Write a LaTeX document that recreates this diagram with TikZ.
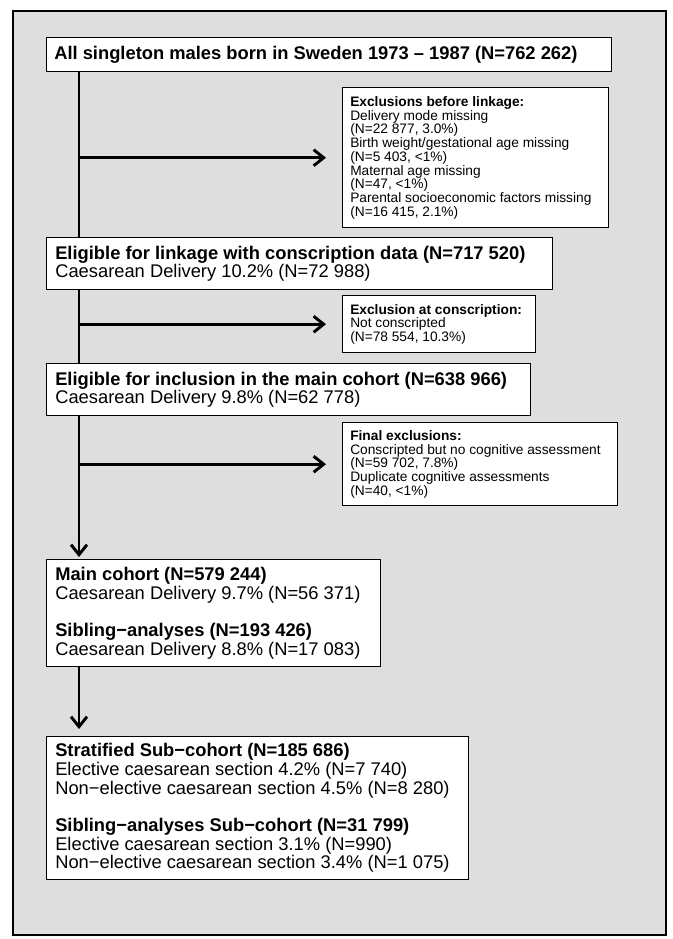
\documentclass[tikz,border=0pt]{standalone}
\usepackage{fontspec}
\setmainfont{Liberation Sans}
\usetikzlibrary{arrows.meta}
\begin{document}
\begin{tikzpicture}[x=0.75pt,y=-0.75pt,
  frame/.style={draw=black, line width=1.1pt, fill=white, anchor=north west, inner sep=0pt},
  bigtext/.style={inner sep=0pt, align=left, anchor=west, font={\fontsize{13.75}{14}\selectfont\lineskiplimit=-6pt}},
  smalltext/.style={inner sep=0pt, align=left, anchor=west, font={\fontsize{10.3}{10.3}\selectfont\lineskiplimit=-6pt}},
  conn/.style={line width=2.2pt},
  arr/.style={line width=2.2pt, -{Straight Barb[length=7.5pt,width=12pt,line width=2.2pt]}}]
\useasboundingbox (0,0) rectangle (673,939);
\node[draw=black, line width=1.5pt, fill=black!13, anchor=north west, inner sep=0pt,
  minimum width=489.75pt, minimum height=693pt] (outer) at (12,10) {};
\coordinate (trunk) at (79,0);
% main boxes
\node[frame, minimum width=423.75pt, minimum height=25.5pt] (b1) at (46,37) {};
\node[bigtext] (b1t) at ([xshift=6pt]b1.west) {\textbf{All singleton males born in Sweden 1973 – 1987 (N=762 262)}};
\node[frame, minimum width=379.5pt, minimum height=39pt] (b2) at (46,237) {};
\node[bigtext] (b2t) at ([xshift=6.75pt]b2.west) {\textbf{Eligible for linkage with conscription data (N=717 520)}\\Caesarean Delivery 10.2\% (N=72 988)};
\node[frame, minimum width=363pt, minimum height=39pt] (b3) at (46,363) {};
\node[bigtext] (b3t) at ([xshift=6.75pt]b3.west) {\textbf{Eligible for inclusion in the main cohort (N=638 966)}\\Caesarean Delivery 9.8\% (N=62 778)};
\node[frame, minimum width=250.5pt, minimum height=80.25pt] (b4) at (46,559) {};
\node[bigtext] (b4t) at ([xshift=6.75pt]b4.west) {\textbf{Main cohort (N=579 244)}\\Caesarean Delivery 9.7\% (N=56 371)\\[14pt]\textbf{Sibling−analyses (N=193 426)}\\Caesarean Delivery 8.8\% (N=17 083)};
\node[frame, minimum width=316.5pt, minimum height=107.25pt] (b5) at (46,736) {};
\node[bigtext] (b5t) at ([xshift=6.75pt]b5.west) {\textbf{Stratified Sub−cohort (N=185 686)}\\Elective caesarean section 4.2\% (N=7 740)\\Non−elective caesarean section 4.5\% (N=8 280)\\[14pt]\textbf{Sibling−analyses Sub−cohort (N=31 799)}\\Elective caesarean section 3.1\% (N=990)\\Non−elective caesarean section 3.4\% (N=1 075)};
% exclusion boxes
\node[frame, minimum width=199.5pt, minimum height=105pt] (e1) at (342,87) {};
\node[smalltext] (e1t) at ([xshift=6pt]e1.west) {\textbf{Exclusions before linkage:}\\Delivery mode missing\\(N=22 877, 3.0\%)\\Birth weight/gestational age missing\\(N=5 403, <1\%)\\Maternal age missing\\(N=47, <1\%)\\Parental socioeconomic factors missing\\(N=16 415, 2.1\%)};
\node[frame, minimum width=144.75pt, minimum height=42.75pt] (e2) at (342,295) {};
\node[smalltext] (e2t) at ([xshift=6pt]e2.west) {\textbf{Exclusion at conscription:}\\Not conscripted\\(N=78 554, 10.3\%)};
\node[frame, minimum width=206.25pt, minimum height=62.25pt] (e3) at (342,422) {};
\node[smalltext] (e3t) at ([xshift=6pt]e3.west) {\textbf{Final exclusions:}\\Conscripted but no cognitive assessment\\(N=59 702, 7.8\%)\\Duplicate cognitive assessments\\(N=40, <1\%)};
% connectors
\draw[conn] (b1.south -| trunk) -- (b2.north -| trunk);
\draw[conn] (b2.south -| trunk) -- (b3.north -| trunk);
\draw[arr, shorten >=1.5pt] (b3.south -| trunk) -- (b4.north -| trunk);
\draw[arr, shorten >=5.25pt] (b4.south -| trunk) -- (b5.north -| trunk);
\draw[arr, shorten >=12pt] (e1.west -| trunk) -- (e1.west);
\draw[arr, shorten >=12pt] (e2.west -| trunk) -- (e2.west);
\draw[arr, shorten >=12pt] (e3.west -| trunk) -- (e3.west);
\end{tikzpicture}
\end{document}
